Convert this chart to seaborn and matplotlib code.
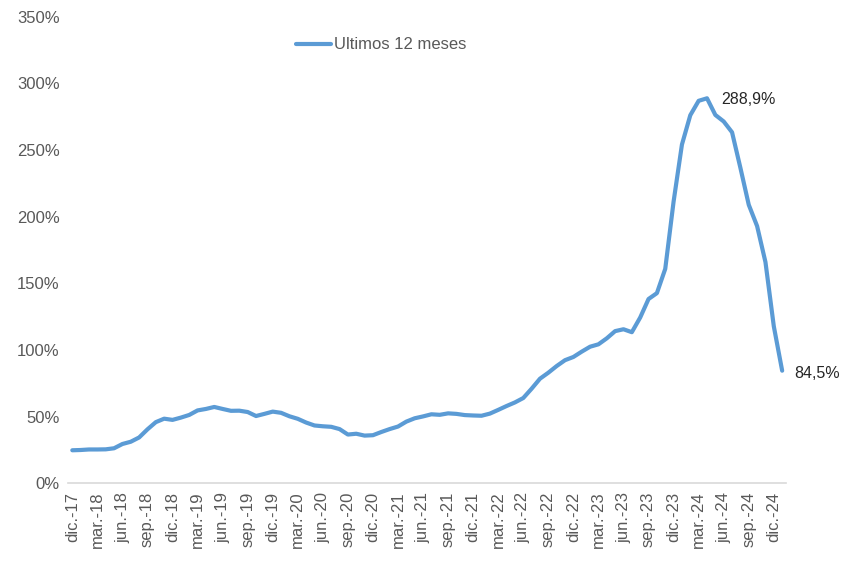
import numpy as np
import pandas as pd
import matplotlib
matplotlib.use("Agg")
import matplotlib.pyplot as plt
import seaborn as sns

# inflacion interanual, dic-17 a ene-25 (%)
valores = [24.8,
           25.0, 25.4, 25.4, 25.5, 26.3, 29.5, 31.2, 34.4, 40.5, 45.9, 48.5, 47.6,
           49.3, 51.3, 54.7, 55.8, 57.3, 55.8, 54.4, 54.5, 53.5, 50.5, 52.1, 53.8,
           52.9, 50.3, 48.4, 45.6, 43.4, 42.8, 42.4, 40.7, 36.6, 37.2, 35.8, 36.1,
           38.5, 40.7, 42.6, 46.3, 48.8, 50.2, 51.8, 51.4, 52.5, 52.1, 51.2, 50.9,
           50.7, 52.3, 55.1, 58.0, 60.7, 64.0, 71.0, 78.5, 83.0, 88.0, 92.4, 94.8,
           98.8, 102.5, 104.3, 108.8, 114.2, 115.6, 113.4, 124.4, 138.3, 142.7, 160.9, 211.4,
           254.2, 276.2, 287.0, 288.9, 276.4, 271.5, 263.4, 236.7, 209.0, 193.0, 166.0, 117.8,
           84.5]
etiquetas = ["dic.-17"]
for a in range(18, 25):
    for m in ["mar.", "jun.", "sep.", "dic."]:
        etiquetas.append(f"{m}-{a}")

df = pd.DataFrame({"mes": np.arange(len(valores)), "valor": valores})

sns.set_style("white")
plt.rcParams["font.family"] = ["Liberation Sans", "DejaVu Sans"]

fig = plt.figure(figsize=(8.41, 5.62), dpi=100)
ax = fig.add_axes([0.081, 0.14, 0.854, 0.83])
azul = "#5B9BD5"
gris = "#595959"

sns.lineplot(data=df, x="mes", y="valor", ax=ax, color=azul, linewidth=3,
             label="Ultimos 12 meses")

ax.set_xlim(-0.5, 85.5)
ax.set_ylim(0, 350)
ax.set_yticks(range(0, 351, 50))
ax.set_yticklabels([f"{v}%" for v in range(0, 351, 50)], color=gris, fontsize=12)
ax.set_xticks(range(0, 85, 3))
ax.set_xticklabels(etiquetas, rotation=90, color=gris, fontsize=12)
ax.tick_params(length=0, pad=6)
ax.set_xlabel("")
ax.set_ylabel("")
for s in ["top", "right", "left"]:
    ax.spines[s].set_visible(False)
ax.spines["bottom"].set_color("#D9D9D9")
ax.spines["bottom"].set_linewidth(1.2)

i_max = int(np.argmax(valores))
ax.annotate(f"{valores[i_max]:.1f}%".replace(".", ","), (i_max, valores[i_max]),
            xytext=(10, -1), textcoords="offset points", fontsize=11.5, va="center")
ax.annotate(f"{valores[-1]:.1f}%".replace(".", ","), (len(valores) - 1, valores[-1]),
            xytext=(9, -2), textcoords="offset points", fontsize=11.5, va="center")

leg = ax.legend(loc="center left", bbox_to_anchor=(0.352, 0.92), bbox_transform=fig.transFigure,
                frameon=False, fontsize=12, handlelength=2.1, handletextpad=0.2, borderpad=0,
                borderaxespad=0)
for t in leg.get_texts():
    t.set_color(gris)

fig.savefig("out.png", dpi=100)
